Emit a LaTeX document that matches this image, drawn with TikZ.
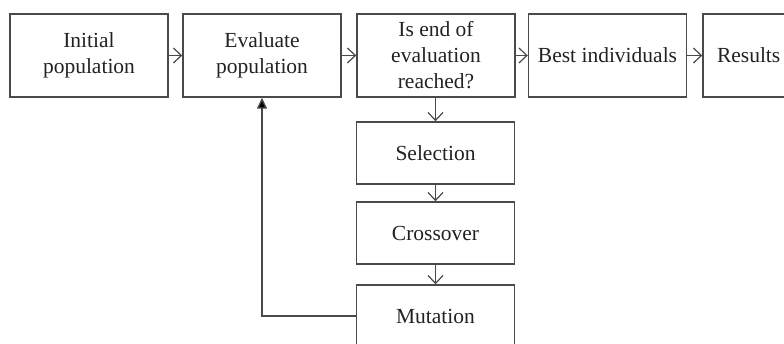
\documentclass[tikz,border=0pt]{standalone}
\usepackage{fontspec}
\setmainfont{Liberation Serif}
\usetikzlibrary{arrows.meta}
\definecolor{edge}{HTML}{4A4A4A}
\definecolor{ink}{HTML}{222222}
\begin{document}
\begin{tikzpicture}[x=1pt,y=-1pt,
  every node/.style={font=\fontsize{21.5}{26}\selectfont, text=ink},
  stepbox/.style={draw=edge, line width=1.4pt, minimum width=158pt, align=center, inner sep=0pt},
  tallbox/.style={stepbox, minimum height=83pt},
  flatbox/.style={stepbox, minimum height=62pt},
  flow/.style={draw=edge, line width=1.4pt, -{Straight Barb[length=8pt,width=15pt,line width=1.2pt]}},
  back/.style={draw=edge, line width=1.4pt, -{Triangle[length=11pt,width=10pt,fill=black]}}]
  \useasboundingbox (0,0) rectangle (784,344);
  \begin{scope}
    \clip (0,0) rectangle (784,344);
    % top row
    \node[tallbox] (init) at (89,55.5) {Initial\\population};
    \node[tallbox] (eval) at (262,55.5) {Evaluate\\population};
    \node[tallbox] (stop) at (436,55.5) {Is end of\\evaluation\\reached?};
    \node[tallbox] (best) at (607.5,55.5) {Best individuals};
    \node[tallbox, align=left, text width=130pt, inner xsep=14pt] (res) at (782,55.5) {Results};
    % genetic operators
    \node[flatbox] (sel) at (435.5,153) {Selection};
    \node[flatbox] (cro) at (435.5,233) {Crossover};
    \node[flatbox] (mut) at (435.5,316) {Mutation};
    % connectors
    \draw[flow] (init) -- (eval);
    \draw[flow] (eval) -- (stop);
    \draw[flow] (stop) -- (best);
    \draw[flow] (best) -- (res);
    \draw[flow] (stop.south -| sel.north) -- (sel);
    \draw[flow] (sel) -- (cro);
    \draw[flow] (cro) -- (mut);
    \draw[back] (mut.west) -| (eval.south);
  \end{scope}
\end{tikzpicture}
\end{document}
